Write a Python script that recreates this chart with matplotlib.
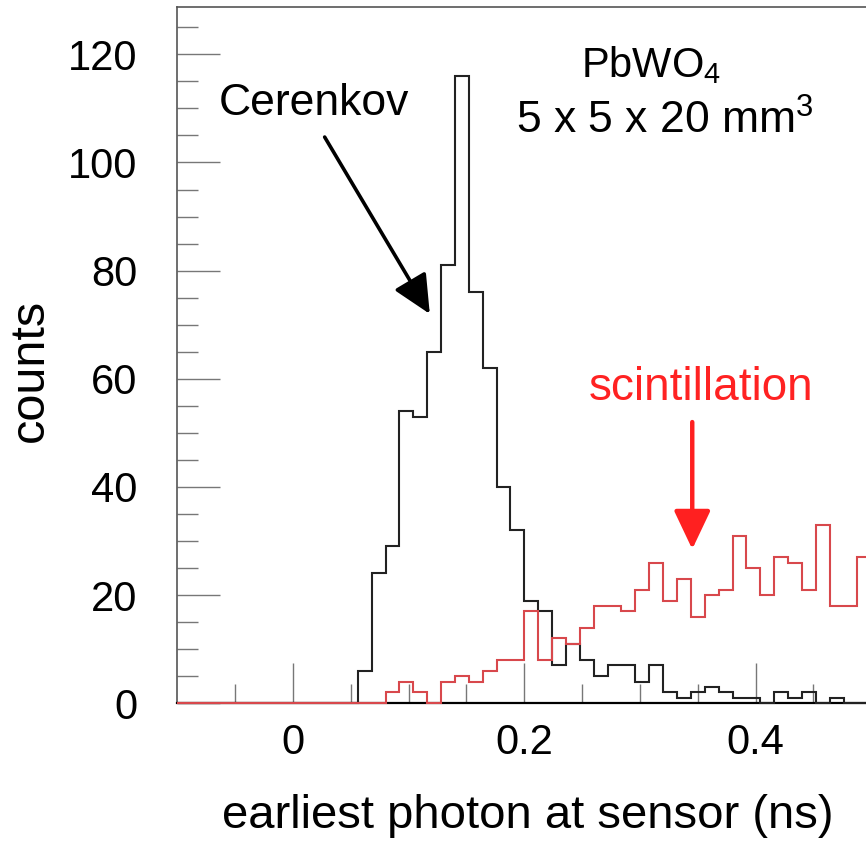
import numpy as np
import matplotlib
matplotlib.use('Agg')
import matplotlib.pyplot as plt

plt.rcParams['font.family'] = ['Liberation Sans', 'DejaVu Sans']
plt.rcParams['mathtext.fontset'] = 'custom'
plt.rcParams['mathtext.rm'] = 'Liberation Sans'
plt.rcParams['mathtext.it'] = 'Liberation Sans'

# histogram: 50 bins from -0.1 to 0.5 ns
bin_lo, bin_hi, n_bins = -0.1, 0.5, 50

# counts per bin (black = Cerenkov, starts at bin 13; red = scintillation, starts at bin 15)
cerenkov_first_bin = 13
cerenkov_counts = [6, 24, 29, 54, 53, 65, 81, 116, 76, 62,
                   40, 32, 19, 17, 7, 11, 8, 5, 7, 7,
                   4, 7, 2, 1, 2, 3, 2, 1, 1, 0,
                   2, 1, 2, 0, 1, 0, 0]
scint_first_bin = 15
scint_counts = [2, 4, 2, 0, 4, 5, 4, 6, 8, 8,
                17, 8, 12, 11, 14, 18, 18, 17, 21, 26,
                19, 23, 16, 20, 21, 31, 25, 20, 27, 26,
                21, 33, 18, 18, 27]

x_ticks = [0, 0.2, 0.4]
x_ticklabels = ['0', '0.2', '0.4']
y_ticks = [0, 20, 40, 60, 80, 100, 120]


def full_hist(first, counts):
    h = np.zeros(n_bins)
    h[first:first + len(counts)] = counts
    return h


def main():
    edges = np.linspace(bin_lo, bin_hi, n_bins + 1)
    h_cer = full_hist(cerenkov_first_bin, cerenkov_counts)
    h_sci = full_hist(scint_first_bin, scint_counts)

    W, H = 866, 841
    fig = plt.figure(figsize=(W / 100, H / 100), dpi=100)
    ax = fig.add_axes([177.3 / W, 137.7 / H, (871.3 - 177.3) / W, (834.3 - 137.7) / H])

    ax.stairs(h_cer, edges, color='#222222', lw=1.5, baseline=None, zorder=3, clip_on=False)
    ax.stairs(h_sci, edges, color='#d8484c', lw=1.5, baseline=None, zorder=3, clip_on=False)

    ax.set_xlim(-0.1, 0.5)
    ax.set_ylim(0, 128.8)

    ax.set_xticks(x_ticks)
    ax.set_xticklabels(x_ticklabels)
    ax.set_xticks(np.arange(-0.05, 0.5, 0.05), minor=True)
    ax.set_yticks(y_ticks)
    ax.set_yticks(np.arange(0, 129, 5), minor=True)

    ax.tick_params(which='both', direction='in', colors='#777777', labelcolor='black',
                   labelsize=30, width=1)
    ax.tick_params(axis='x', which='major', length=29, pad=14)
    ax.tick_params(axis='x', which='minor', length=14)
    ax.tick_params(axis='y', which='major', length=31, pad=29)
    ax.tick_params(axis='y', which='minor', length=15)

    for s in ['top', 'right', 'left']:
        ax.spines[s].set_color('#555555')
        ax.spines[s].set_linewidth(1.2)
    ax.spines['bottom'].set_color('black')
    ax.spines['bottom'].set_linewidth(1.6)

    fig.text(528 / W, 1 - 816 / H, 'earliest photon at sensor (ns)', fontsize=34,
             ha='center', va='center')
    fig.text(30 / W, 1 - 370 / H, 'counts', fontsize=35, rotation=90,
             ha='center', va='center')

    ax.text(0.0182, 108.8, 'Cerenkov', fontsize=32, ha='center', va='baseline')
    ax.text(0.3097, 115.8, r'PbWO$_4$', fontsize=30, ha='center', va='baseline')
    ax.text(0.3215, 105.4, r'5 x 5 x 20 mm$^3$', fontsize=32, ha='center', va='baseline')
    ax.text(0.3527, 56.0, 'scintillation', fontsize=33, color='#ff2222',
            ha='center', va='baseline')

    ax.annotate('', xy=(0.1183, 72.0), xytext=(0.0274, 104.7),
                arrowprops=dict(arrowstyle='-|>,head_length=0.95,head_width=0.45',
                                mutation_scale=25, lw=2.6, color='black',
                                shrinkA=0, shrinkB=0))
    ax.annotate('', xy=(0.3452, 28.5), xytext=(0.3452, 52.0),
                arrowprops=dict(arrowstyle='-|>,head_length=0.95,head_width=0.45',
                                mutation_scale=25, lw=3.2, color='#ff2020',
                                shrinkA=0, shrinkB=0))

    fig.savefig('out.png', dpi=100)


if __name__ == '__main__':
    main()
